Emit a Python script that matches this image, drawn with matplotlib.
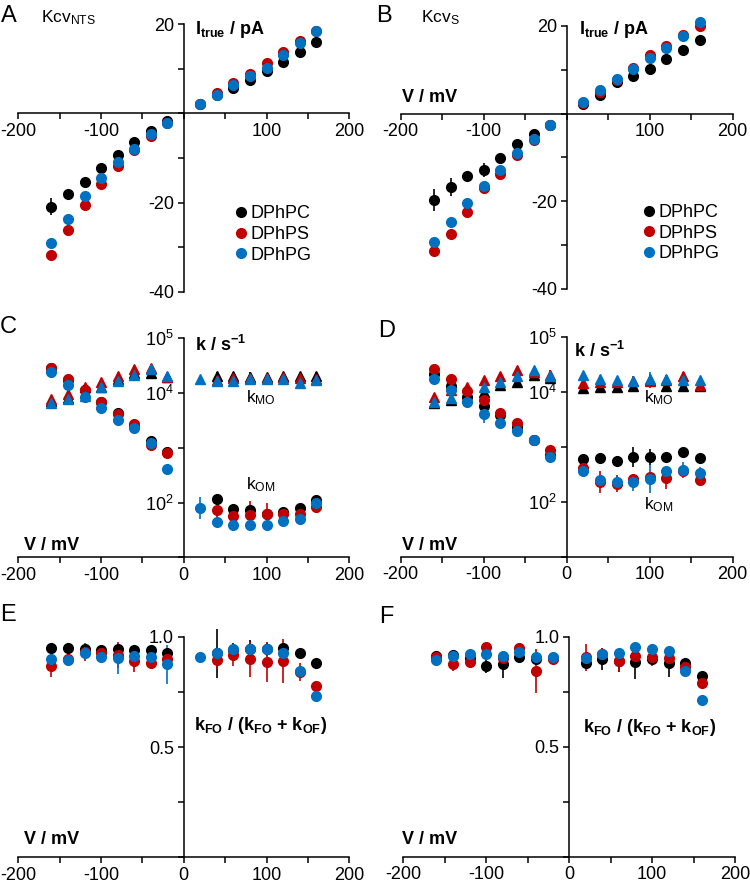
import numpy as np
import matplotlib
matplotlib.use("Agg")
import matplotlib.pyplot as plt
from matplotlib.ticker import FixedLocator, FuncFormatter, NullLocator

plt.rcParams['font.family'] = ['Liberation Sans', 'DejaVu Sans']
plt.rcParams['mathtext.fontset'] = 'custom'
plt.rcParams['mathtext.rm'] = 'Liberation Sans'
plt.rcParams['mathtext.it'] = 'Liberation Sans:italic'
plt.rcParams['mathtext.bf'] = 'Liberation Sans:bold'

# ---------------- data ----------------
voltages = [-160, -140, -120, -100, -80, -60, -40, -20, 20, 40, 60, 80, 100, 120, 140, 160]
lipids = ["DPhPC", "DPhPS", "DPhPG"]
colors = ["#000000", "#C00000", "#0070C0"]

# Panel A: I_true / pA (KcvNTS)
a_pc = [-20.9, -18.1, -15.3, -12.3, -9.3, -6.5, -3.9, -1.8, 2.2, 4.2, 5.7, 7.6, 9.6, 11.5, 13.8, 16.0]
a_ps = [-31.7, -26.1, -20.6, -15.9, -11.9, -8.3, -5.0, -2.2, 2.2, 4.6, 6.8, 8.9, 11.4, 13.7, 16.2, 18.4]
a_pg = [-29.1, -23.7, -18.6, -14.4, -10.9, -8.0, -4.6, -2.2, 2.2, 4.2, 6.3, 8.3, 10.2, 13.2, 15.8, 18.5]
a_pc_err = [1.9, 0.8, 0.6, 0.6, 0.5, 0.6, 0.4, 0.3, 0.2, 0.3, 0.3, 0.4, 0.4, 0.4, 0.5, 0.6]
a_ps_err = [1.0, 0.8, 0.6, 0.5, 0.4, 0.3, 0.3, 0.2, 0.2, 0.4, 0.5, 0.6, 0.5, 0.6, 0.6, 0.8]
a_pg_err = [0.6, 0.5, 0.5, 0.4, 0.4, 0.3, 0.3, 0.2, 0.2, 0.6, 0.4, 0.4, 0.4, 0.5, 1.0, 1.0]

# Panel B: I_true / pA (KcvS)
b_pc = [-19.8, -16.8, -14.3, -12.9, -10.1, -6.9, -4.7, -2.7, 2.1, 4.3, 7.2, 8.5, 10.2, 12.4, 14.5, 16.8]
b_ps = [-31.4, -27.6, -22.5, -17.1, -13.7, -9.5, -6.1, -2.7, 2.4, 5.0, 7.6, 10.3, 13.3, 15.5, 17.9, 20.0]
b_pg = [-29.3, -24.8, -20.4, -16.5, -12.8, -9.1, -5.7, -2.7, 2.7, 5.3, 7.9, 10.1, 12.8, 14.9, 17.7, 20.8]
b_pc_err = [2.5, 2.0, 1.2, 1.5, 0.8, 0.6, 0.5, 0.3, 0.3, 0.4, 0.5, 0.8, 0.5, 0.9, 0.5, 0.5]
b_ps_err = [0.6, 0.6, 0.6, 0.6, 0.5, 0.4, 0.4, 0.2, 0.2, 0.3, 0.4, 0.4, 0.5, 0.5, 1.0, 0.6]
b_pg_err = [0.6, 1.0, 0.8, 0.6, 0.5, 0.4, 0.4, 0.2, 0.2, 0.3, 0.4, 0.4, 0.5, 0.5, 0.6, 0.7]

# Panel C: log10(k / s^-1), circles (k_OM) and triangles (k_MO), KcvNTS
c_om_pc = [4.45, 4.24, 4.06, 3.83, 3.64, 3.42, 3.12, 2.92, np.nan, 2.06, 1.88, 1.87, 1.79, 1.83, 1.90, 2.04]
c_om_ps = [4.45, 4.25, 4.05, 3.83, 3.62, 3.44, 3.05, 2.90, np.nan, 1.86, 1.75, 1.77, 1.79, 1.79, 1.80, 1.91]
c_om_pg = [4.38, 4.15, 3.93, 3.72, 3.50, 3.36, 3.09, 2.61, 1.90, 1.64, 1.59, 1.59, 1.59, 1.66, 1.70, 1.99]
c_om_pc_err = [0.05, 0.05, 0.05, 0.05, 0.05, 0.05, 0.08, 0.05, np.nan, 0.10, 0.06, 0.06, 0.06, 0.06, 0.05, 0.10]
c_om_ps_err = [0.05, 0.05, 0.05, 0.05, 0.05, 0.05, 0.05, 0.05, np.nan, 0.25, 0.18, 0.25, 0.20, 0.06, 0.06, 0.08]
c_om_pg_err = [0.05, 0.08, 0.05, 0.10, 0.05, 0.05, 0.05, 0.05, 0.20, 0.08, 0.06, 0.06, 0.05, 0.05, 0.05, 0.05]
c_mo_pc = [3.85, 3.91, 4.00, 4.11, 4.25, 4.36, 4.36, 4.30, np.nan, 4.32, 4.32, 4.30, 4.30, 4.32, 4.31, 4.32]
c_mo_ps = [3.90, 3.99, 4.11, 4.21, 4.32, 4.44, 4.45, 4.30, np.nan, 4.24, 4.27, 4.28, 4.28, 4.30, 4.28, 4.25]
c_mo_pg = [3.82, 3.90, 3.94, 4.11, 4.22, 4.33, 4.44, 4.32, 4.25, 4.22, 4.22, 4.25, 4.26, 4.25, 4.19, 4.23]
c_mo_err = [0.04, 0.04, 0.04, 0.04, 0.04, 0.04, 0.04, 0.04, 0.04, 0.06, 0.05, 0.08, 0.05, 0.05, 0.05, 0.06]

# Panel D: log10(k / s^-1), KcvS
d_om_pc = [4.32, 4.10, 3.91, 3.74, 3.58, 3.36, 3.12, 2.85, 2.77, 2.80, 2.74, 2.81, 2.81, 2.82, 2.90, 2.80]
d_om_ps = [4.42, 4.24, 4.02, 3.85, 3.62, 3.44, 3.12, 2.94, 2.61, 2.35, 2.33, 2.42, 2.45, 2.44, 2.55, 2.39]
d_om_pg = [4.23, 4.03, 3.82, 3.59, 3.44, 3.28, 3.12, 2.81, 2.56, 2.39, 2.36, 2.35, 2.41, 2.55, 2.58, 2.53]
d_om_pc_err = [0.05, 0.06, 0.05, 0.06, 0.05, 0.05, 0.05, 0.05, 0.06, 0.08, 0.10, 0.18, 0.15, 0.05, 0.05, 0.06]
d_om_ps_err = [0.05, 0.05, 0.05, 0.06, 0.05, 0.05, 0.10, 0.05, 0.06, 0.20, 0.15, 0.06, 0.06, 0.20, 0.06, 0.05]
d_om_pg_err = [0.06, 0.06, 0.06, 0.15, 0.08, 0.06, 0.06, 0.06, 0.06, 0.10, 0.10, 0.15, 0.25, 0.08, 0.15, 0.10]
d_mo_pc = [3.79, 3.85, 3.91, 4.00, 4.12, 4.18, 4.30, 4.25, 4.06, 4.08, 4.08, 4.10, 4.21, 4.10, 4.10, 4.10]
d_mo_ps = [3.91, 4.03, 4.08, 4.21, 4.28, 4.39, 4.36, 4.30, 4.15, 4.18, 4.17, 4.19, 4.19, 4.21, 4.28, 4.12]
d_mo_pg = [3.82, 3.89, 4.00, 4.08, 4.18, 4.28, 4.39, 4.28, 4.30, 4.24, 4.21, 4.19, 4.24, 4.24, 4.21, 4.22]
d_mo_err = [0.05, 0.05, 0.05, 0.05, 0.05, 0.05, 0.05, 0.10, 0.06, 0.06, 0.06, 0.10, 0.12, 0.06, 0.08, 0.05]

# Panel E: kFO / (kFO + kOF), KcvNTS
e_pc = [0.947, 0.947, 0.942, 0.939, 0.944, 0.939, 0.939, 0.927, np.nan, 0.924, 0.940, 0.945, 0.942, 0.947, 0.927, 0.882]
e_ps = [0.868, 0.900, 0.930, 0.927, 0.917, 0.889, 0.879, 0.900, np.nan, 0.894, 0.917, 0.897, 0.886, 0.889, 0.841, 0.777]
e_pg = [0.897, 0.894, 0.924, 0.909, 0.902, 0.912, 0.909, 0.874, 0.906, 0.927, 0.942, 0.944, 0.942, 0.927, 0.844, 0.732]
e_pc_err = [0.02, 0.02, 0.01, 0.01, 0.01, 0.015, 0.015, 0.01, np.nan, 0.11, 0.03, 0.04, 0.03, 0.02, 0.01, 0.01]
e_ps_err = [0.05, 0.02, 0.04, 0.03, 0.06, 0.05, 0.02, 0.02, np.nan, 0.04, 0.05, 0.08, 0.09, 0.10, 0.04, 0.02]
e_pg_err = [0.01, 0.01, 0.01, 0.03, 0.07, 0.01, 0.01, 0.09, 0.01, 0.01, 0.01, 0.01, 0.01, 0.01, 0.01, 0.03]

# Panel F: kFO / (kFO + kOF), KcvS
f_pc = [0.912, 0.917, 0.905, 0.867, 0.874, 0.909, 0.900, 0.905, 0.882, 0.897, 0.890, 0.886, 0.900, 0.879, 0.882, 0.821]
f_ps = [0.909, 0.876, 0.886, 0.955, 0.905, 0.947, 0.845, 0.900, 0.906, 0.920, 0.891, 0.912, 0.906, 0.902, 0.864, 0.788]
f_pg = [0.894, 0.912, 0.921, 0.921, 0.912, 0.932, 0.906, 0.906, 0.905, 0.921, 0.924, 0.952, 0.942, 0.936, 0.845, 0.712]
f_pc_err = [0.02, 0.02, 0.01, 0.03, 0.06, 0.01, 0.01, 0.01, 0.02, 0.05, 0.05, 0.08, 0.02, 0.06, 0.02, 0.02]
f_ps_err = [0.02, 0.03, 0.01, 0.01, 0.01, 0.01, 0.10, 0.02, 0.06, 0.03, 0.05, 0.02, 0.04, 0.05, 0.02, 0.01]
f_pg_err = [0.02, 0.01, 0.01, 0.01, 0.01, 0.01, 0.01, 0.01, 0.01, 0.01, 0.01, 0.01, 0.01, 0.01, 0.01, 0.01]

# ---------------- figure ----------------
W, H = 750, 886
fig = plt.figure(figsize=(W / 100, H / 100), dpi=100)


def add_ax(x0, x1, ytop, ybot):
    return fig.add_axes([x0 / W, 1 - ybot / H, (x1 - x0) / W, (ybot - ytop) / H])


def fig_text(x, y, s, **kw):
    kw.setdefault('va', 'center')
    kw.setdefault('ha', 'left')
    fig.text(x / W, 1 - y / H, s, **kw)


TICK_FS = 13
LAB_FS = 13
LW = 1.1
MS = 7


def style(ax, ylim, yticks, ylabels, log=False, cross_zero=False):
    ax.set_xlim(-200, 200)
    if log:
        ax.set_yscale('log')
    ax.set_ylim(*ylim)
    ax.patch.set_alpha(0)
    for s in ['top', 'right']:
        ax.spines[s].set_visible(False)
    ax.spines['left'].set_position(('data', 0))
    if cross_zero:
        ax.spines['bottom'].set_position(('data', 0))
    for s in ['left', 'bottom']:
        ax.spines[s].set_linewidth(LW)
    ax.xaxis.set_major_locator(FixedLocator([-200, -150, -100, -50, 0, 50, 100, 150, 200]))
    xlab = {-200: '-200', -100: '-100', 100: '100', 200: '200'}
    if not cross_zero:
        xlab[0] = '0'
    ax.xaxis.set_major_formatter(FuncFormatter(lambda v, p: xlab.get(int(round(v)), '')))
    ax.yaxis.set_major_locator(FixedLocator(yticks))
    ax.yaxis.set_minor_locator(NullLocator())
    ax.xaxis.set_minor_locator(NullLocator())
    lab = dict(zip(yticks, ylabels))
    ax.yaxis.set_major_formatter(FuncFormatter(lambda v, p: lab.get(v, '')))
    ax.tick_params(direction='out', length=4, width=LW, labelsize=TICK_FS, pad=3)


def plot_series(ax, yvals_list, errs_list, marker='o', log=False, ms=MS):
    for yv, er, col in zip(yvals_list, errs_list, colors):
        yv = np.asarray(yv, float)
        er = np.asarray(er, float)
        if log:
            y = 10 ** yv
            lo = y - 10 ** (yv - er)
            hi = 10 ** (yv + er) - y
            yerr = [lo, hi]
        else:
            y = yv
            yerr = er
        ax.errorbar(voltages, y, yerr=yerr, fmt=marker, color=col, ms=ms,
                    mec=col, elinewidth=1.2, capsize=0, clip_on=False, zorder=3)


# Panel A
axA = add_ax(18.3, 349.3, 24.3, 291.7)
style(axA, (-40, 20), [-40, -30, -20, -10, 0, 10, 20], ['-40', '', '-20', '', '', '', '20'], cross_zero=True)
plot_series(axA, [a_pc, a_ps, a_pg], [a_pc_err, a_ps_err, a_pg_err])

# Panel B
axB = add_ax(400.7, 732.7, 26, 288.7)
style(axB, (-40, 20), [-40, -30, -20, -10, 0, 10, 20], ['-40', '', '-20', '', '', '', '20'], cross_zero=True)
plot_series(axB, [b_pc, b_ps, b_pg], [b_pc_err, b_ps_err, b_pg_err])

# Panel C
klog_ticks = [10.0, 100.0, 1000.0, 10000.0, 100000.0]
klog_labels = ['', r'$10^{2}$', '', r'$10^{4}$', r'$10^{5}$']
axC = add_ax(18.3, 349.3, 338.3, 557.3)
style(axC, (10, 1e5), klog_ticks, klog_labels, log=True)
plot_series(axC, [c_mo_pc, c_mo_ps, c_mo_pg], [c_mo_err] * 3, marker='^', log=True, ms=MS + 0.5)
plot_series(axC, [c_om_pc, c_om_ps, c_om_pg], [c_om_pc_err, c_om_ps_err, c_om_pg_err], log=True)

# Panel D
axD = add_ax(400.7, 732.7, 336.7, 556.7)
style(axD, (10, 1e5), klog_ticks, klog_labels, log=True)
plot_series(axD, [d_mo_pc, d_mo_ps, d_mo_pg], [d_mo_err] * 3, marker='^', log=True, ms=MS + 0.5)
plot_series(axD, [d_om_pc, d_om_ps, d_om_pg], [d_om_pc_err, d_om_ps_err, d_om_pg_err], log=True)

# Panel E
axE = add_ax(18.3, 349.3, 636.7, 857.3)
style(axE, (0, 1.0), [0.0, 0.25, 0.5, 0.75, 1.0], ['', '', '0.5', '', '1.0'])
plot_series(axE, [e_pc, e_ps, e_pg], [e_pc_err, e_ps_err, e_pg_err])

# Panel F
axF = add_ax(403.3, 735, 636.7, 856.7)
style(axF, (0, 1.0), [0.0, 0.25, 0.5, 0.75, 1.0], ['', '', '0.5', '', '1.0'])
plot_series(axF, [f_pc, f_ps, f_pg], [f_pc_err, f_ps_err, f_pg_err])

# Legends (A and B)
for ax, loc in [(axA, (0.645, 0.105)), (axB, (0.72, 0.10))]:
    handles = [plt.Line2D([], [], ls='none', marker='o', ms=MS, color=c) for c in colors]
    ax.legend(handles, lipids, loc='lower left', bbox_to_anchor=loc, frameon=False,
              fontsize=13, handletextpad=0.05, handlelength=1.0, labelspacing=0.2,
              borderaxespad=0, borderpad=0)

# Texts
LETTER_FS = 17
fig_text(1, 16, 'A', fontsize=LETTER_FS)
fig_text(376, 16, 'B', fontsize=LETTER_FS)
fig_text(0, 327, 'C', fontsize=LETTER_FS)
fig_text(378, 331, 'D', fontsize=LETTER_FS)
fig_text(0, 615, 'E', fontsize=LETTER_FS)
fig_text(379, 617, 'F', fontsize=LETTER_FS)

fig_text(41, 18, r'Kcv$_{\mathrm{NTS}}$', fontsize=12.5)
fig_text(421, 18, r'Kcv$_{\mathrm{S}}$', fontsize=12.5)

fig_text(195, 30, r'$\mathbf{I_{true}}$ / pA', fontsize=LAB_FS, fontweight='bold')
fig_text(579, 30, r'$\mathbf{I_{true}}$ / pA', fontsize=LAB_FS, fontweight='bold')
fig_text(402, 97, 'V / mV', fontsize=LAB_FS, fontweight='bold')

fig_text(195, 345, r'k / s$^{\mathbf{-1}}$', fontsize=LAB_FS, fontweight='bold')
fig_text(574, 351, r'k / s$^{\mathbf{-1}}$', fontsize=LAB_FS, fontweight='bold')
fig_text(246, 398, r'k$_{\mathrm{MO}}$', fontsize=12.5)
fig_text(246, 485, r'k$_{\mathrm{OM}}$', fontsize=12.5)
fig_text(644, 398, r'k$_{\mathrm{MO}}$', fontsize=12.5)
fig_text(644, 505, r'k$_{\mathrm{OM}}$', fontsize=12.5)
fig_text(24, 545, 'V / mV', fontsize=LAB_FS, fontweight='bold')
fig_text(402, 545, 'V / mV', fontsize=LAB_FS, fontweight='bold')

kf = r'$\mathbf{k_{FO}}$ / ($\mathbf{k_{FO}}$ + $\mathbf{k_{OF}}$)'
fig_text(194, 726, kf, fontsize=LAB_FS, fontweight='bold')
fig_text(583, 728, kf, fontsize=LAB_FS, fontweight='bold')
fig_text(24, 840, 'V / mV', fontsize=LAB_FS, fontweight='bold')
fig_text(402, 840, 'V / mV', fontsize=LAB_FS, fontweight='bold')

fig.savefig('out.png', dpi=100)
